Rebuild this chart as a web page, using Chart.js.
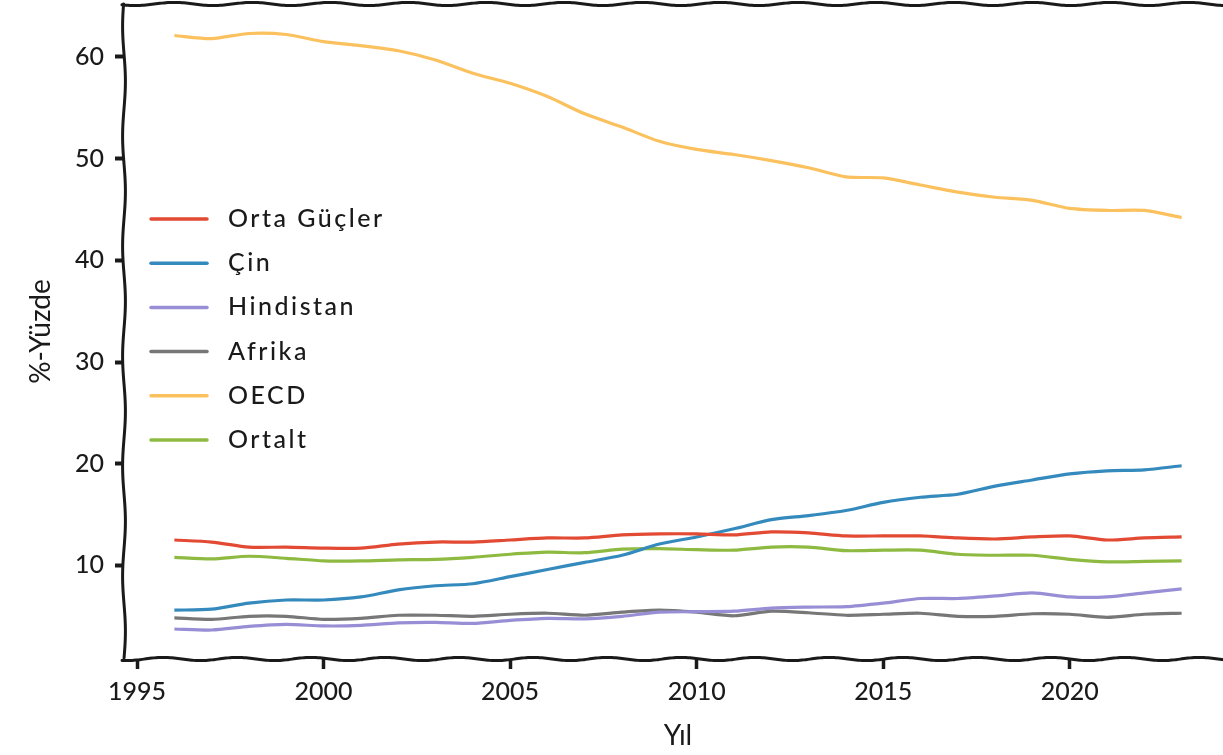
<!DOCTYPE html>
<html>
<head>
<meta charset="utf-8">
<script src="https://cdn.jsdelivr.net/npm/chart.js@4.4.1/dist/chart.umd.min.js"></script>
<style>
  html, body { margin: 0; padding: 0; background: #fff; overflow: hidden; }
</style>
</head>
<body>
<canvas id="chart" width="1232" height="755"></canvas>
<script>
const years = [1996, 1997, 1998, 1999, 2000, 2001, 2002, 2003, 2004, 2005, 2006, 2007, 2008, 2009,
  2010, 2011, 2012, 2013, 2014, 2015, 2016, 2017, 2018, 2019, 2020, 2021, 2022, 2023];

const ortaGucler = [12.5, 12.3, 11.8, 11.8, 11.7, 11.7, 12.1, 12.3, 12.3, 12.5, 12.7, 12.7, 13.0, 13.1,
  13.1, 13.0, 13.3, 13.2, 12.9, 12.9, 12.9, 12.7, 12.6, 12.8, 12.9, 12.5, 12.7, 12.8];
const cin = [5.6, 5.7, 6.3, 6.6, 6.6, 6.9, 7.6, 8.0, 8.2, 8.9, 9.6, 10.3, 11.0, 12.1,
  12.8, 13.6, 14.5, 14.9, 15.4, 16.2, 16.7, 17.0, 17.8, 18.4, 19.0, 19.3, 19.4, 19.8];
const hindistan = [3.75, 3.65, 4.0, 4.2, 4.05, 4.1, 4.35, 4.4, 4.3, 4.6, 4.8, 4.75, 5.0, 5.4,
  5.45, 5.5, 5.8, 5.9, 5.95, 6.3, 6.75, 6.75, 7.0, 7.3, 6.9, 6.9, 7.3, 7.7];
const afrika = [4.85, 4.7, 5.0, 5.0, 4.7, 4.8, 5.1, 5.1, 5.0, 5.2, 5.3, 5.1, 5.4, 5.6,
  5.4, 5.05, 5.5, 5.35, 5.1, 5.2, 5.3, 5.0, 5.0, 5.25, 5.2, 4.9, 5.2, 5.3];
const oecd = [62.1, 61.8, 62.3, 62.2, 61.5, 61.1, 60.6, 59.7, 58.4, 57.4, 56.1, 54.4, 53.1, 51.7,
  50.9, 50.4, 49.8, 49.1, 48.2, 48.1, 47.4, 46.7, 46.2, 45.9, 45.1, 44.9, 44.9, 44.2];
const ortalt = [10.8, 10.65, 10.9, 10.7, 10.45, 10.45, 10.55, 10.6, 10.8, 11.1, 11.3, 11.25, 11.6, 11.65,
  11.55, 11.5, 11.8, 11.8, 11.45, 11.5, 11.5, 11.1, 11.0, 11.0, 10.6, 10.35, 10.4, 10.45];

const seriesNames = ['Orta Güçler', 'Çin', 'Hindistan', 'Afrika', 'OECD', 'Ortalt'];
const seriesValues = [ortaGucler, cin, hindistan, afrika, oecd, ortalt];
const seriesColors = ['#E24A33', '#348ABD', '#988ED5', '#777777', '#FBC15E', '#8EBA42'];

const FONT = 'Lato, "Open Sans", sans-serif';
const INK = '#1a1a1a';

// hand drawn looking frame
function wavy(ctx, x0, y0, x1, y1, amp, period, phase) {
  const len = Math.hypot(x1 - x0, y1 - y0);
  const ux = (x1 - x0) / len, uy = (y1 - y0) / len;
  ctx.beginPath();
  for (let s = 0; s <= len; s += 2) {
    const off = amp * Math.sin((s / period) * 2 * Math.PI + phase);
    const px = x0 + ux * s - uy * off;
    const py = y0 + uy * s + ux * off;
    if (s === 0) ctx.moveTo(px, py); else ctx.lineTo(px, py);
  }
  ctx.stroke();
}

const framePlugin = {
  id: 'frame',
  afterDraw(chart) {
    const { ctx, chartArea: a } = chart;
    ctx.save();
    ctx.strokeStyle = INK;
    ctx.lineWidth = 3;
    ctx.lineCap = 'round';
    wavy(ctx, a.left - 2, a.top, a.right + 2, a.top, 1.6, 78, 0.5);
    wavy(ctx, a.left - 2, a.bottom, a.right + 2, a.bottom, 1.6, 74, 1.2);
    wavy(ctx, a.left, a.top, a.left, a.bottom, 1.4, 110, 0.3);
    wavy(ctx, a.right, a.top, a.right, a.bottom, 1.4, 110, 2.0);
    ctx.restore();
  }
};

const legendPlugin = {
  id: 'insideLegend',
  afterDatasetsDraw(chart) {
    const ctx = chart.ctx;
    ctx.save();
    ctx.font = '500 25px ' + FONT;
    ctx.letterSpacing = '2.5px';
    ctx.textBaseline = 'middle';
    ctx.fillStyle = INK;
    chart.data.datasets.forEach((ds, i) => {
      const y = 219 + i * 44.2;
      ctx.strokeStyle = ds.borderColor;
      ctx.lineWidth = 3.5;
      ctx.lineCap = 'round';
      ctx.beginPath();
      ctx.moveTo(151, y);
      ctx.lineTo(207, y);
      ctx.stroke();
      ctx.fillText(ds.label, 228, y);
    });
    ctx.restore();
  }
};

const datasets = seriesNames.map((name, i) => ({
  label: name,
  data: years.map((yr, j) => ({ x: yr, y: seriesValues[i][j] })),
  borderColor: seriesColors[i],
  backgroundColor: seriesColors[i],
  borderWidth: 3.2,
  pointRadius: 0,
  tension: 0.25,
  fill: false
}));

new Chart(document.getElementById('chart').getContext('2d'), {
  type: 'line',
  data: { datasets: datasets },
  options: {
    responsive: false,
    animation: false,
    layout: { padding: { top: 4, left: 0, right: 0, bottom: 0 } },
    plugins: { legend: { display: false }, tooltip: { enabled: false } },
    scales: {
      x: {
        type: 'linear',
        min: 1994.65,
        max: 2024.35,
        afterFit(scale) { scale.height = 96; scale.paddingLeft = 0; scale.paddingRight = 0; },
        border: { display: false },
        grid: { drawOnChartArea: false, drawTicks: true, tickLength: 10, tickWidth: 3.5, tickColor: INK, color: INK },
        ticks: {
          stepSize: 5,
          includeBounds: false,
          padding: 8,
          color: INK,
          font: { family: FONT, size: 25, weight: '500' },
          maxRotation: 0,
          callback: v => String(v)
        },
        title: { display: true, text: 'Yıl', color: INK, font: { family: FONT, size: 28 }, padding: { top: 0, bottom: 2 } }
      },
      y: {
        min: 0.8,
        max: 65.2,
        afterFit(scale) { scale.width = 124; scale.paddingTop = 0; scale.paddingBottom = 0; },
        border: { display: false },
        grid: { drawOnChartArea: false, drawTicks: true, tickLength: 9, tickWidth: 4, tickColor: INK, color: INK },
        ticks: {
          stepSize: 10,
          includeBounds: false,
          padding: 11,
          color: INK,
          font: { family: FONT, size: 25, weight: '500' }
        },
        title: { display: true, text: '%-Yüzde', color: INK, font: { family: FONT, size: 28 }, padding: { top: 24, bottom: 0 } }
      }
    }
  },
  plugins: [legendPlugin, framePlugin]
});
</script>
</body>
</html>
